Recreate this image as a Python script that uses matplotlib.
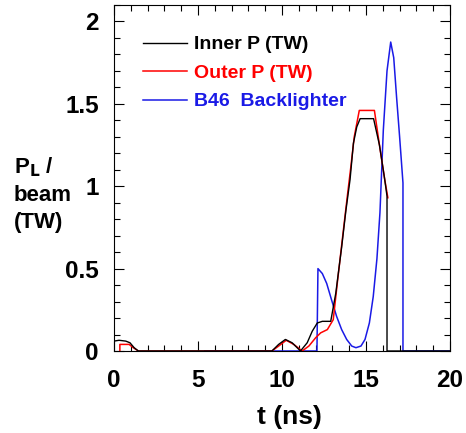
import numpy as np
import matplotlib.pyplot as plt
from matplotlib.ticker import MultipleLocator

plt.rcParams['font.family'] = ['Liberation Sans', 'DejaVu Sans']
plt.rcParams['font.weight'] = 'bold'

# inner beams power (TW)
t_inner = [0.0, 0.0, 0.3, 0.7, 0.95, 1.2, 1.45, 9.4, 9.8, 10.2, 10.6, 11.1, 11.5, 11.8,
           12.1, 12.4, 12.9, 13.2, 13.55, 13.8, 14.05, 14.25, 14.45, 14.65, 15.0, 15.45,
           15.8, 16.1, 16.25, 16.25, 20.0]
p_inner = [0.0, 0.06, 0.065, 0.06, 0.05, 0.02, 0.0, 0.0, 0.04, 0.07, 0.05, 0.0, 0.05, 0.12,
           0.17, 0.18, 0.18, 0.35, 0.63, 0.85, 1.04, 1.26, 1.36, 1.41, 1.41, 1.41,
           1.25, 1.05, 0.94, 0.0, 0.0]

# outer beams power (TW)
t_outer = [0.35, 0.35, 0.9, 1.15, 1.45, 9.4, 9.8, 10.25, 10.7, 11.2, 11.6, 12.0, 12.3,
           12.7, 13.05, 13.3, 13.65, 13.9, 14.1, 14.3, 14.6, 15.0, 15.5, 15.8, 16.1, 16.3]
p_outer = [0.0, 0.04, 0.04, 0.02, 0.0, 0.0, 0.03, 0.065, 0.04, 0.0, 0.03, 0.08, 0.11,
           0.13, 0.19, 0.42, 0.73, 0.95, 1.12, 1.3, 1.46, 1.46, 1.46, 1.25, 1.05, 0.93]

# B46 backlighter
t_bl = [5.4, 12.08, 12.14, 12.4, 12.66, 12.95, 13.25, 13.55, 13.85, 14.15, 14.4, 14.7,
        14.94, 15.2, 15.43, 15.65, 15.83, 16.03, 16.25, 16.47, 16.65, 16.82, 17.0, 17.2,
        17.2, 20.0]
p_bl = [0.0, 0.0, 0.50, 0.47, 0.41, 0.31, 0.21, 0.13, 0.07, 0.03, 0.02, 0.03,
        0.07, 0.17, 0.33, 0.56, 0.84, 1.34, 1.7, 1.875, 1.78, 1.54, 1.3, 1.02,
        0.0, 0.0]

fig = plt.figure(figsize=(4.66, 4.33), dpi=100)
ax = fig.add_axes([0.2446, 0.1894, 0.7211, 0.7991])

ax.plot(t_bl, p_bl, color='#1a1ae6', lw=1.1, label='B46  Backlighter')
ax.plot(t_outer, p_outer, color='#ff0000', lw=1.1, label='Outer P (TW)')
ax.plot(t_inner, p_inner, color='black', lw=1.0, label='Inner P (TW)')

ax.set_xlim(0, 20)
ax.set_ylim(0, 2.1)
ax.xaxis.set_major_locator(MultipleLocator(5))
ax.xaxis.set_minor_locator(MultipleLocator(1))
ax.yaxis.set_major_locator(MultipleLocator(0.5))
ax.yaxis.set_minor_locator(MultipleLocator(0.1))
ax.set_yticks([0, 0.5, 1, 1.5, 2])
ax.set_yticklabels(['0', '0.5', '1', '1.5', '2'])
ax.tick_params(which='both', direction='in', top=True, right=True, labelsize=17.5, width=0.8)
ax.tick_params(which='major', length=7)
ax.tick_params(which='minor', length=4)
ax.tick_params(axis='x', which='major', pad=13)
ax.tick_params(axis='y', which='major', pad=11)
for s in ax.spines.values():
    s.set_linewidth(0.8)

ax.set_xlabel('t (ns)', fontsize=19, fontweight='bold')
ax.xaxis.set_label_coords(0.522, -0.155)
fig.text(0.03, 0.641, 'P$_\\mathbf{L}$ /\nbeam\n(TW)', fontsize=16, fontweight='bold',
         va='top', ha='left', linespacing=1.36)

h, l = ax.get_legend_handles_labels()
leg = ax.legend(h[::-1], l[::-1], loc='upper left', bbox_to_anchor=(0.056, 0.939),
                frameon=False, borderpad=0, fontsize=14, handlelength=2.3,
                handletextpad=0.35, labelspacing=0.56, labelcolor='linecolor')

fig.savefig('out.png', dpi=100)
